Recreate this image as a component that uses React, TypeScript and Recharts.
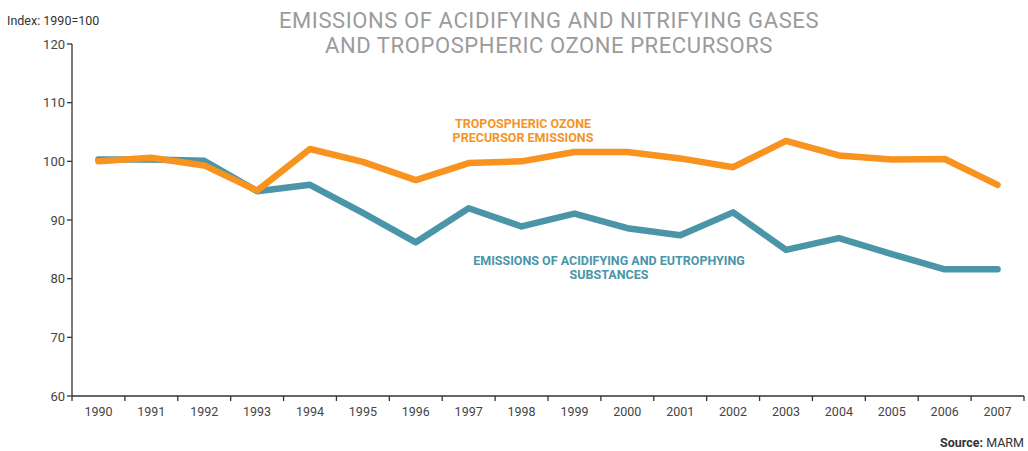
import { CartesianGrid, Line, LineChart, XAxis, YAxis } from 'recharts';

const years = [
  '1990', '1991', '1992', '1993', '1994', '1995', '1996', '1997', '1998',
  '1999', '2000', '2001', '2002', '2003', '2004', '2005', '2006', '2007',
];
const ozonePrecursors = [
  100, 100.6, 99.3, 95.0, 102.1, 99.9, 96.8, 99.7, 100.0,
  101.6, 101.6, 100.5, 99.0, 103.5, 101.0, 100.3, 100.4, 96.0,
];
const acidifying = [
  100.3, 100.3, 100.1, 94.9, 96.0, 91.2, 86.2, 92.0, 88.9,
  91.1, 88.6, 87.4, 91.3, 84.9, 86.9, 84.2, 81.6, 81.6,
];
const yTicks = [60, 70, 80, 90, 100, 110, 120];

const data = years.map((year, i) => ({
  year,
  ozone: ozonePrecursors[i],
  acid: acidifying[i],
}));

const W = 1028;
const H = 451;
const MARGIN = { top: 44, right: 4, bottom: 25, left: 0 };
const Y_AXIS_W = 72;
const HALF_BAND = (W - MARGIN.left - MARGIN.right - Y_AXIS_W) / years.length / 2;

const FONT = 'Roboto, "DejaVu Sans", sans-serif';
const ORANGE = '#F7931E';
const TEAL = '#4A95A8';

function YearTick(props: any) {
  const { x, y, payload, index } = props;
  const last = index === years.length - 1;
  return (
    <g>
      <line x1={x - HALF_BAND} x2={x - HALF_BAND} y1={y - 8} y2={y - 3} stroke="#333" strokeWidth={1.3} />
      {last && (
        <line x1={x + HALF_BAND} x2={x + HALF_BAND} y1={y - 8} y2={y - 3} stroke="#333" strokeWidth={1.3} />
      )}
      <text x={x} y={y + 12} textAnchor="middle" fontSize={12.5} fill="#444" fontFamily={FONT}>
        {payload.value}
      </text>
    </g>
  );
}

export default function App() {
  return (
    <div style={{ position: 'absolute', left: 0, top: 0, width: W, height: H, background: '#fff', fontFamily: FONT }}>
      <div
        style={{
          position: 'absolute', left: 0, width: W, top: 8, textAlign: 'center',
          paddingLeft: 70, boxSizing: 'border-box', color: '#9b9b9b', fontSize: 22,
          lineHeight: '25px', letterSpacing: 0.6,
        }}
      >
        EMISSIONS OF ACIDIFYING AND NITRIFYING GASES
        <br />
        AND TROPOSPHERIC OZONE PRECURSORS
      </div>
      <div style={{ position: 'absolute', left: 7, top: 13, fontSize: 12.5, color: '#333' }}>Index: 1990=100</div>

      <LineChart width={W} height={H} data={data} margin={MARGIN}>
        <CartesianGrid stroke="none" />
        <XAxis
          dataKey="year"
          scale="band"
          height={30}
          axisLine={{ stroke: '#333', strokeWidth: 1.3 }}
          tickLine={false}
          tick={<YearTick />}
          interval={0}
        />
        <YAxis
          domain={[60, 120]}
          ticks={yTicks}
          width={Y_AXIS_W}
          axisLine={{ stroke: '#333', strokeWidth: 1.3 }}
          tickLine={{ stroke: '#333', strokeWidth: 1.3 }}
          tickSize={5}
          tick={{ fontSize: 13, fill: '#444', fontFamily: FONT }}
        />
        <Line
          dataKey="acid"
          stroke={TEAL}
          strokeWidth={6.5}
          dot={false}
          strokeLinecap="round"
          strokeLinejoin="round"
          isAnimationActive={false}
        />
        <Line
          dataKey="ozone"
          stroke={ORANGE}
          strokeWidth={6.5}
          dot={false}
          strokeLinecap="round"
          strokeLinejoin="round"
          isAnimationActive={false}
        />
      </LineChart>

      <div
        style={{
          position: 'absolute', left: 423, width: 200, top: 117, textAlign: 'center',
          color: ORANGE, fontSize: 12.5, fontWeight: 700, lineHeight: '14px',
        }}
      >
        TROPOSPHERIC OZONE
        <br />
        PRECURSOR EMISSIONS
      </div>
      <div
        style={{
          position: 'absolute', left: 459, width: 300, top: 254, textAlign: 'center',
          color: TEAL, fontSize: 12.5, fontWeight: 700, lineHeight: '14px',
        }}
      >
        EMISSIONS OF ACIDIFYING AND EUTROPHYING
        <br />
        SUBSTANCES
      </div>
      <div style={{ position: 'absolute', right: 4, top: 435, fontSize: 12.5, color: '#333' }}>
        <b>Source:</b> MARM
      </div>
    </div>
  );
}
